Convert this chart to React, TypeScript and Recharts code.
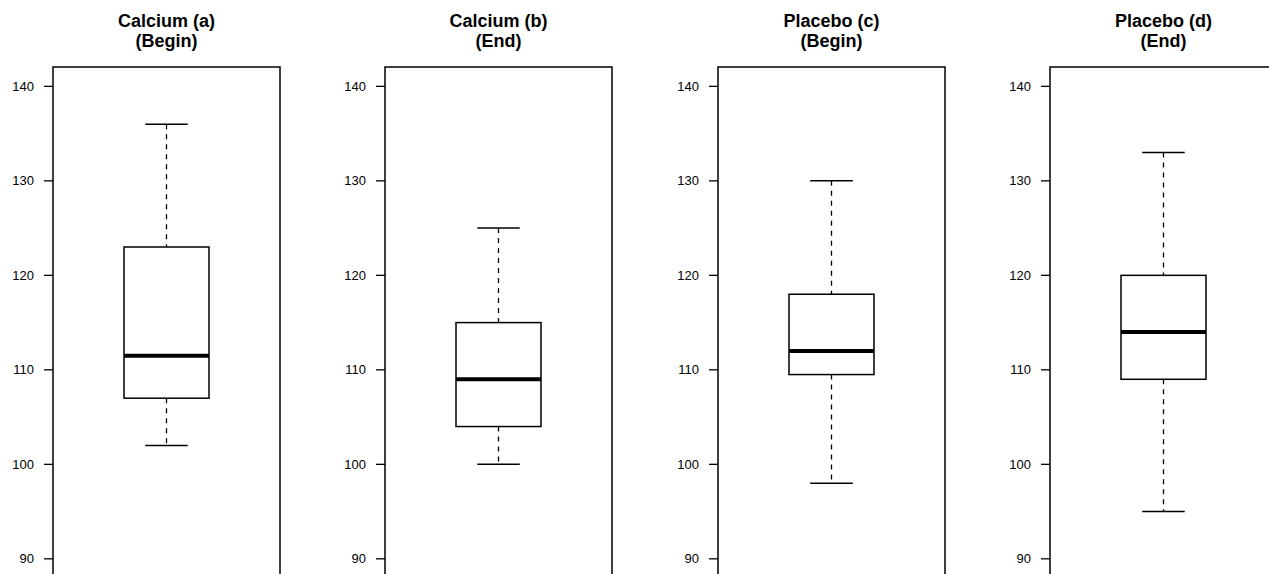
import React from "react";
import { ComposedChart, Bar, XAxis, YAxis, ReferenceArea } from "recharts";

// Four groups, one box plot per panel
const panelTitles = ["Calcium (a)", "Calcium (b)", "Placebo (c)", "Placebo (d)"];
const panelPhases = ["(Begin)", "(End)", "(Begin)", "(End)"];
const whiskerLow = [102, 100, 98, 95];
const quartile1 = [107, 104, 109.5, 109];
const medians = [111.5, 109, 112, 114];
const quartile3 = [123, 115, 118, 120];
const whiskerHigh = [136, 125, 130, 133];
const yTicks = [90, 100, 110, 120, 130, 140];
const yDomain: [number, number] = [86.7, 142.05];

const FONT = "'Liberation Sans', Arial, Helvetica, sans-serif";
const PANEL_STEP = 332.33;
const CHART_W = 332;
const CHART_H = 600;

type BoxRow = {
  name: string;
  range: [number, number];
  lo: number;
  q1: number;
  med: number;
  q3: number;
  hi: number;
};

// Draws whiskers, caps, box and median from the bar's [low, high] geometry
const BoxShape = (props: any) => {
  const { x, y, width, height, payload } = props;
  const { lo, q1, med, q3, hi } = payload as BoxRow;
  const toY = (v: number) => y + ((hi - v) / (hi - lo)) * height;
  const cx = x + width / 2;
  const capHalf = width / 4;
  const dash = "5 5";
  return (
    <g>
      <line x1={cx} x2={cx} y1={toY(hi)} y2={toY(q3)} stroke="#000" strokeWidth={1.3} strokeDasharray={dash} />
      <line x1={cx} x2={cx} y1={toY(q1)} y2={toY(lo)} stroke="#000" strokeWidth={1.3} strokeDasharray={dash} />
      <line x1={cx - capHalf} x2={cx + capHalf} y1={toY(hi)} y2={toY(hi)} stroke="#000" strokeWidth={1.5} />
      <line x1={cx - capHalf} x2={cx + capHalf} y1={toY(lo)} y2={toY(lo)} stroke="#000" strokeWidth={1.5} />
      <rect x={x} y={toY(q3)} width={width} height={toY(q1) - toY(q3)} fill="#fff" stroke="#000" strokeWidth={1.5} />
      <line x1={x} x2={x + width} y1={toY(med)} y2={toY(med)} stroke="#000" strokeWidth={4} />
    </g>
  );
};

const Panel = ({ index }: { index: number }) => {
  const row: BoxRow = {
    name: panelTitles[index],
    range: [whiskerLow[index], whiskerHigh[index]],
    lo: whiskerLow[index],
    q1: quartile1[index],
    med: medians[index],
    q3: quartile3[index],
    hi: whiskerHigh[index],
  };
  const left = Math.round(index * PANEL_STEP);
  return (
    <div style={{ position: "absolute", left, top: 0, width: CHART_W, height: CHART_H }}>
      <div
        style={{
          position: "absolute",
          left: 0,
          top: 12,
          width: 333,
          textAlign: "center",
          fontFamily: FONT,
          fontWeight: "bold",
          fontSize: 18,
          lineHeight: "19.5px",
          color: "#000",
        }}
      >
        <div>{panelTitles[index]}</div>
        <div>{panelPhases[index]}</div>
      </div>
      <ComposedChart
        width={CHART_W}
        height={CHART_H}
        data={[row]}
        margin={{ top: 67, right: 52, bottom: 10, left: 13 }}
      >
        <XAxis dataKey="name" type="category" hide />
        <YAxis
          type="number"
          domain={yDomain}
          ticks={yTicks}
          allowDataOverflow
          width={40}
          axisLine={false}
          tickLine={{ stroke: "#000", strokeWidth: 1.3 }}
          tickSize={9}
          tickMargin={10}
          tick={{ fill: "#000", fontSize: 13, fontFamily: FONT }}
        />
        {/* plot frame */}
        <ReferenceArea
          x1={row.name}
          x2={row.name}
          y1={yDomain[0]}
          y2={yDomain[1]}
          fill="#fff"
          fillOpacity={0}
          stroke="#000"
          strokeWidth={1.5}
          strokeOpacity={1}
          ifOverflow="visible"
        />
        <Bar dataKey="range" barSize={85} shape={BoxShape} isAnimationActive={false} />
      </ComposedChart>
    </div>
  );
};

export default function App() {
  return (
    <div
      style={{
        position: "fixed",
        left: 0,
        top: 0,
        width: 1269,
        height: 574,
        overflow: "hidden",
        background: "#fff",
      }}
    >
      {[0, 1, 2, 3].map((i) => (
        <Panel key={i} index={i} />
      ))}
    </div>
  );
}
